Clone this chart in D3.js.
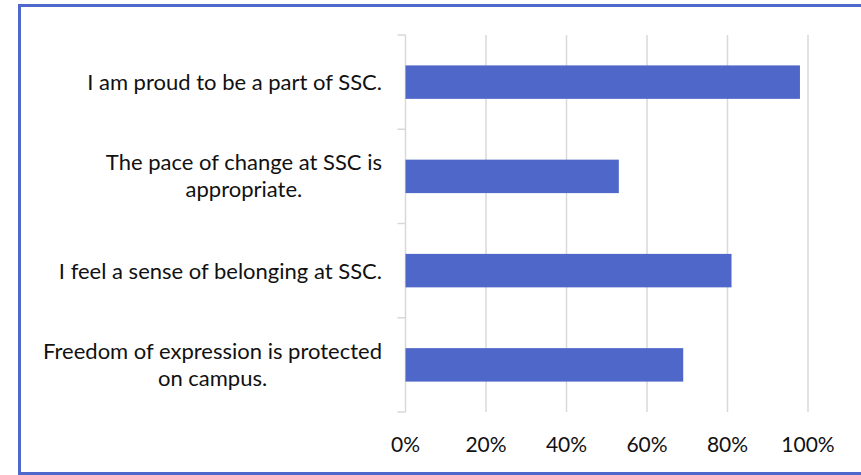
<!DOCTYPE html>
<html>
<head>
<meta charset="utf-8">
<script src="https://cdn.jsdelivr.net/npm/d3@7"></script>
<style>
  body { margin: 0; background: #fff; }
  text { font-family: Lato, "Open Sans", sans-serif; fill: #111; }
</style>
</head>
<body>
<div id="chart"></div>
<script>
// statements, top to bottom as shown
const statements = [
    ["I am proud to be a part of SSC."],
    ["The pace of change at SSC is", "appropriate."],
    ["I feel a sense of belonging at SSC."],
    ["Freedom of expression is protected", "on campus."]
];
const agreeShare = [0.98, 0.53, 0.81, 0.69];
const tickValues = [0, 0.2, 0.4, 0.6, 0.8, 1.0];

const width = 861, height = 475;
const margin = { top: 35, right: 53, bottom: 63, left: 405.5 };

const data = statements.map((lines, i) => ({ key: lines.join(" "), lines, value: agreeShare[i] }));

const svg = d3.select("#chart").append("svg")
    .attr("width", width)
    .attr("height", height);

// blue frame (right edge runs off the picture)
svg.append("rect")
    .attr("x", 19.5).attr("y", 5.5)
    .attr("width", 900).attr("height", 468)
    .attr("fill", "none")
    .attr("stroke", "#4F68CC")
    .attr("stroke-width", 3);

const x = d3.scaleLinear().domain([0, 1]).range([margin.left, width - margin.right]);
const y = d3.scaleBand()
    .domain(data.map(d => d.key))
    .range([margin.top, height - margin.bottom])
    .paddingInner(0.645).paddingOuter(0.3225);

// full band edges for the category ticks
const band = d3.scaleBand()
    .domain(data.map(d => d.key))
    .range([margin.top, height - margin.bottom]);

// gridlines
svg.append("g")
    .selectAll("line")
    .data(tickValues.slice(1))
    .join("line")
    .attr("x1", d => x(d)).attr("x2", d => x(d))
    .attr("y1", margin.top).attr("y2", height - margin.bottom)
    .attr("stroke", "#D9D9D9")
    .attr("stroke-width", 1.5);

// category axis line + ticks
const axisG = svg.append("g");
axisG.append("line")
    .attr("x1", x(0)).attr("x2", x(0))
    .attr("y1", margin.top).attr("y2", height - margin.bottom)
    .attr("stroke", "#D9D9D9").attr("stroke-width", 1.5);
const edges = data.map(d => band(d.key)).concat([height - margin.bottom]);
axisG.selectAll(".tk")
    .data(edges)
    .join("line")
    .attr("x1", x(0) - 8).attr("x2", x(0))
    .attr("y1", d => d).attr("y2", d => d)
    .attr("stroke", "#D9D9D9").attr("stroke-width", 1.5);

// bars
svg.append("g")
    .selectAll("rect")
    .data(data)
    .join("rect")
    .attr("x", x(0))
    .attr("y", d => y(d.key))
    .attr("width", d => x(d.value) - x(0))
    .attr("height", y.bandwidth())
    .attr("fill", "#4E67C8");

// category labels, wrapped lines centred on each other
const labelRight = 382;
const labels = svg.append("g").selectAll("g")
    .data(data)
    .join("g");

labels.each(function(d) {
    const g = d3.select(this);
    const c = band(d.key) + band.bandwidth() / 2;
    const t = g.append("text").style("font-size", "22px");
    const lineY = d.lines.length === 1 ? [c + 8] : [c - 6, c + 21];
    d.lines.forEach((s, i) => {
        t.append("tspan").attr("y", lineY[i]).text(s);
    });
    const widths = [];
    t.selectAll("tspan").each(function() { widths.push(this.getComputedTextLength()); });
    const w = d3.max(widths);
    const cx = labelRight - w / 2;
    t.attr("text-anchor", "middle");
    t.selectAll("tspan").attr("x", cx);
});

// value axis labels
svg.append("g")
    .selectAll("text")
    .data(tickValues)
    .join("text")
    .attr("x", d => x(d))
    .attr("y", 452)
    .attr("text-anchor", "middle")
    .style("font-size", "21px")
    .text(d3.format(".0%"));
</script>
</body>
</html>
